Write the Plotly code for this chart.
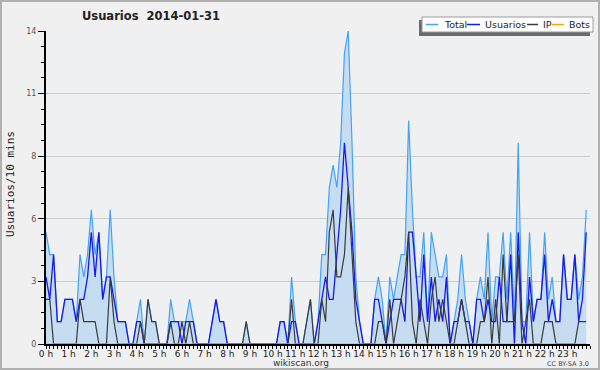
import plotly.graph_objects as go

# ---- data (10-minute slots, 2014-01-31) ----
slots = list(range(144))

total = [5, 4, 4, 1, 1, 2, 2, 2, 1, 4, 3, 4, 6, 4, 5, 2, 3, 6, 3, 1, 1, 1, 0, 0,
         1, 2, 0, 2, 1, 1, 0, 0, 0, 2, 1, 1, 1, 1, 2, 1, 0, 0, 0, 0, 1, 2, 1, 1,
         0, 0, 0, 0, 0, 1, 0, 0, 0, 0, 0, 0, 0, 0, 1, 1, 0, 3, 1, 0, 0, 1, 2, 0,
         1, 4, 4, 7, 8, 7, 9, 13, 14, 9, 3, 1, 0, 0, 0, 2, 3, 2, 0, 3, 2, 3, 4, 4,
         10, 6, 3, 3, 5, 1, 5, 4, 3, 3, 4, 0, 1, 2, 4, 2, 1, 0, 2, 3, 2, 5, 1, 3,
         3, 5, 2, 5, 1, 9, 1, 1, 5, 1, 2, 2, 5, 2, 3, 1, 1, 4, 2, 2, 4, 2, 3, 6]

usuarios = [3, 2, 4, 1, 1, 2, 2, 2, 1, 2, 2, 3, 5, 3, 5, 2, 3, 3, 2, 1, 1, 1, 0, 0,
            1, 1, 0, 0, 0, 0, 0, 0, 0, 1, 1, 1, 0, 1, 1, 1, 0, 0, 0, 0, 1, 2, 1, 1,
            0, 0, 0, 0, 0, 0, 0, 0, 0, 0, 0, 0, 0, 0, 1, 1, 0, 1, 1, 0, 0, 0, 0, 0,
            1, 2, 3, 2, 2, 4, 6, 9, 7, 5, 2, 1, 0, 0, 0, 2, 2, 1, 0, 1, 2, 2, 2, 1,
            5, 5, 3, 1, 4, 1, 3, 1, 2, 1, 3, 0, 1, 1, 2, 1, 1, 0, 2, 2, 1, 2, 1, 1,
            3, 1, 1, 4, 0, 5, 1, 0, 3, 1, 2, 2, 4, 1, 2, 1, 1, 4, 2, 2, 4, 1, 2, 5]

ip = [2, 2, 0, 0, 0, 0, 0, 0, 0, 2, 1, 1, 1, 1, 0, 0, 0, 3, 1, 0, 0, 0, 0, 0,
      0, 1, 0, 2, 1, 1, 0, 0, 0, 1, 0, 0, 1, 0, 1, 0, 0, 0, 0, 0, 0, 0, 0, 0,
      0, 0, 0, 0, 0, 1, 0, 0, 0, 0, 0, 0, 0, 0, 0, 0, 0, 2, 0, 0, 0, 1, 2, 0,
      0, 2, 1, 5, 6, 3, 3, 4, 7, 4, 1, 0, 0, 0, 0, 0, 1, 1, 0, 2, 0, 1, 2, 3,
      5, 1, 0, 2, 1, 0, 2, 3, 1, 2, 1, 0, 0, 1, 2, 1, 0, 0, 0, 1, 1, 3, 0, 2,
      0, 4, 1, 1, 1, 4, 0, 1, 2, 0, 0, 0, 1, 1, 1, 0, 0, 0, 0, 0, 0, 1, 1, 1]

bots = [0, 0, 0, 0, 0, 0, 0, 0, 0, 0, 0, 0, 0, 0, 0, 0, 0, 0, 0, 0, 0, 0, 0, 0,
        0, 0, 0, 0, 0, 0, 0, 0, 0, 0, 0, 0, 0, 0, 0, 0, 0, 0, 0, 0, 0, 0, 0, 0,
        0, 0, 0, 0, 0, 0, 0, 0, 0, 0, 0, 0, 0, 0, 0, 0, 0, 0, 0, 0, 0, 0, 0, 0,
        0, 0, 0, 0, 0, 0, 0, 0, 0, 0, 0, 0, 0, 0, 0, 0, 0, 0, 0, 0, 0, 0, 0, 0,
        0, 0, 0, 0, 0, 0, 0, 0, 0, 0, 0, 0, 0, 0, 0, 0, 0, 0, 0, 0, 0, 0, 0, 0,
        0, 0, 0, 0, 0, 0, 0, 0, 0, 0, 0, 0, 0, 0, 0, 0, 0, 0, 0, 0, 0, 0, 0, 0]

hour_ticks = [0, 6, 12, 18, 24, 30, 36, 42, 48, 54, 60, 66, 72, 78, 84, 90,
              96, 102, 108, 114, 120, 126, 132, 138]
hour_labels = ["0 h", "1 h", "2 h", "3 h", "4 h", "5 h", "6 h", "7 h", "8 h",
               "9 h", "10 h", "11 h", "12 h", "13 h", "14 h", "15 h", "16 h",
               "17 h", "18 h", "19 h", "20 h", "21 h", "22 h", "23 h"]
y_ticks = [0, 2.8, 5.6, 8.4, 11.2, 14]
y_labels = ["0", "3", "6", "8", "11", "14"]

series_names = ["Total", "Usuarios", "IP", "Bots"]
series_colors = ["#46a2f2", "#1818f0", "#3a3a3a", "#ffa500"]

# ---- layout geometry (pixels) ----
W, H = 600, 370
L, R, T, B = 46, 590, 31, 344


def px(x):
    return (x - L) / (R - L)


def py(y):
    return (B - y) / (B - T)


FONT = "DejaVu Sans"

fig = go.Figure()
fig.add_trace(go.Scatter(x=slots, y=total, name=series_names[0], mode="lines",
                         line=dict(color=series_colors[0], width=1.2),
                         fill="tozeroy", fillcolor="#c6ddf1"))
fig.add_trace(go.Scatter(x=slots, y=usuarios, name=series_names[1], mode="lines",
                         line=dict(color=series_colors[1], width=1.3)))
fig.add_trace(go.Scatter(x=slots, y=ip, name=series_names[2], mode="lines",
                         line=dict(color=series_colors[2], width=1.2)))
fig.add_trace(go.Scatter(x=slots, y=bots, name=series_names[3], mode="lines",
                         line=dict(color=series_colors[3], width=1)))

shapes = []
# outer border
shapes.append(dict(type="rect", xref="paper", yref="paper",
                   x0=px(1), x1=px(599), y0=py(1), y1=py(369),
                   line=dict(color="#b0b0b0", width=2), fillcolor="rgba(0,0,0,0)",
                   layer="above"))
# legend shadow and box
shapes.append(dict(type="rect", xref="paper", yref="paper",
                   x0=px(419), x1=px(590), y0=py(20), y1=py(36),
                   line=dict(width=0), fillcolor="#6a6a6a", layer="above"))
shapes.append(dict(type="rect", xref="paper", yref="paper",
                   x0=px(422), x1=px(593), y0=py(17), y1=py(32),
                   line=dict(color="#9a9a9a", width=1), fillcolor="#ffffff",
                   layer="above"))

legend_line_x = [(426, 438), (467, 480), (527, 538), (552, 564)]
legend_text_x = [442, 483, 541, 567]
annotations = []
for name, col, (a, b), tx in zip(series_names, series_colors, legend_line_x, legend_text_x):
    shapes.append(dict(type="line", xref="paper", yref="paper",
                       x0=px(a), x1=px(b), y0=py(24.5), y1=py(24.5),
                       line=dict(color=col, width=1.5), layer="above"))
    annotations.append(dict(text=name, xref="paper", yref="paper",
                            x=px(tx), y=py(24.5), xanchor="left", yanchor="middle",
                            showarrow=False,
                            font=dict(family=FONT, size=9.5, color="#222222")))

annotations.append(dict(text="<b>Usuarios\u00a0 2014-01-31</b>", xref="paper", yref="paper",
                        x=px(151), y=py(16), xanchor="center", yanchor="middle",
                        showarrow=False,
                        font=dict(family=FONT, size=11.5, color="#222222"),
                        ))
annotations.append(dict(text="Usuarios/10 mins", xref="paper", yref="paper",
                        x=px(10), y=py(184), xanchor="center", yanchor="middle",
                        textangle=-90, showarrow=False,
                        font=dict(family="DejaVu Sans Mono", size=11, color="#222222")))
annotations.append(dict(text="wikiscan.org", xref="paper", yref="paper",
                        x=px(301), y=py(362.5), xanchor="center", yanchor="middle",
                        showarrow=False,
                        font=dict(family=FONT, size=9, color="#333333")))
annotations.append(dict(text="CC BY-SA 3.0", xref="paper", yref="paper",
                        x=px(591), y=py(363.5), xanchor="right", yanchor="middle",
                        showarrow=False,
                        font=dict(family=FONT, size=6.5, color="#444444")))

fig.update_layout(
    width=W, height=H,
    margin=dict(l=L, r=W - R, t=T, b=H - B, pad=0),
    paper_bgcolor="#f0f0f0",
    plot_bgcolor="#eef0f2",
    showlegend=False,
    shapes=shapes,
    annotations=annotations,
    font=dict(family=FONT),
    xaxis=dict(range=[0, 144], tickmode="array", tickvals=hour_ticks,
               ticktext=hour_labels, ticks="outside", ticklen=3, tickcolor="#000",
               tickwidth=1, showline=True, linecolor="#000", linewidth=2,
               showgrid=False, zeroline=False, fixedrange=True,
               ticklabelstandoff=-3,
               tickfont=dict(family=FONT, size=9, color="#222222"),
               minor=dict(dtick=1, tick0=0, ticks="outside", ticklen=3,
                          tickcolor="#000", tickwidth=1, showgrid=False)),
    yaxis=dict(range=[0, 14], tickmode="array", tickvals=y_ticks, ticktext=y_labels,
               ticks="outside", ticklen=6, tickcolor="#000", tickwidth=1,
               showline=True, linecolor="#000", linewidth=2,
               showgrid=True, gridcolor="#cccccc", gridwidth=1, zeroline=False,
               fixedrange=True,
               tickfont=dict(family=FONT, size=8, color="#555555"),
               minor=dict(dtick=0.7, tick0=0, ticks="outside", ticklen=3,
                          tickcolor="#000", tickwidth=1, showgrid=False)),
)

fig.write_html("out.html", config={"displayModeBar": False},
               post_script="document.body.style.margin='0';document.body.style.overflow='hidden';")
